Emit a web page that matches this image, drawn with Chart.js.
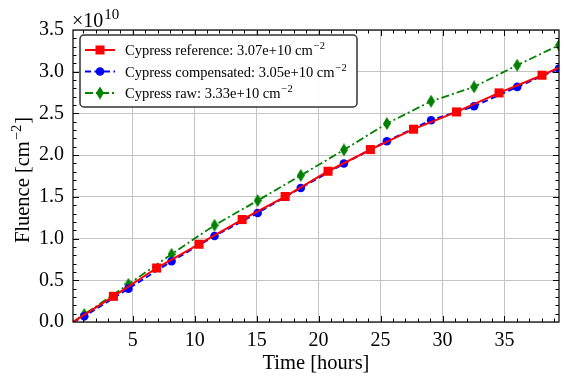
<!DOCTYPE html>
<html><head><meta charset="utf-8">
<script src="https://cdn.jsdelivr.net/npm/chart.js@4"></script>
<style>html,body{margin:0;padding:0;background:#fff}canvas{display:block}</style>
</head><body>
<canvas id="c" width="564" height="377"></canvas>
<script>
// ---- data (fluence in units of 1e10 cm^-2, time in hours) ----
const refTime     = [0.18, 3.44, 6.93, 10.35, 13.83, 17.30, 20.76, 24.18, 27.66, 31.13, 34.56, 38.03, 39.40];
const refFluence  = [0.000, 0.308, 0.647, 0.932, 1.228, 1.504, 1.807, 2.067, 2.311, 2.518, 2.746, 2.958, 3.050];
const compTime    = [0.18, 1.09, 4.65, 8.13, 11.60, 15.08, 18.56, 22.04, 25.51, 29.08, 32.55, 36.03, 39.40];
const compFluence = [0.000, 0.068, 0.400, 0.728, 1.031, 1.307, 1.607, 1.899, 2.167, 2.419, 2.586, 2.818, 3.038];
const rawTime     = [0.18, 1.09, 4.65, 8.13, 11.60, 15.08, 18.56, 22.04, 25.51, 29.08, 32.55, 36.03, 39.40];
const rawFluence  = [0.000, 0.090, 0.452, 0.812, 1.160, 1.455, 1.757, 2.063, 2.379, 2.646, 2.818, 3.078, 3.318];
const seriesNames = ['Cypress reference', 'Cypress compensated', 'Cypress raw'];
const seriesTotals = ['3.07e+10', '3.05e+10', '3.33e+10'];
const xTickValues = [5, 10, 15, 20, 25, 30, 35];
const yTickValues = [0, 0.5, 1.0, 1.5, 2.0, 2.5, 3.0, 3.5];

const SERIF = '"Liberation Serif", "Times New Roman", serif';
const toXY = (xs, ys) => xs.map((v, i) => ({x: v, y: ys[i]}));

// thin diamond marker
function thinDiamond(w, h, color) {
  const c = document.createElement('canvas');
  c.width = w; c.height = h;
  const g = c.getContext('2d');
  g.fillStyle = color;
  g.beginPath();
  g.moveTo(w / 2, 0); g.lineTo(w, h / 2); g.lineTo(w / 2, h); g.lineTo(0, h / 2); g.closePath();
  g.fill();
  return c;
}
const diamondImg = thinDiamond(8, 13, '#008000');

const colors = ['#ff0000', '#0000ff', '#008000'];
const dashes = [[], [6, 3.5], [8, 3, 2, 3]];

function drawSup(ctx, x, y, main, sup, size, supSize, rise) {
  ctx.font = size + 'px ' + SERIF;
  ctx.fillText(main, x, y);
  const w = ctx.measureText(main).width;
  ctx.font = supSize + 'px ' + SERIF;
  ctx.fillText(sup, x + w + 1, y - rise);
  return w + 1 + ctx.measureText(sup).width;
}

const decor = {
  id: 'decor',
  afterDraw(chart) {
    const {ctx, chartArea: a, scales: {x, y}} = chart;
    ctx.save();
    // inward ticks on all four sides
    ctx.strokeStyle = '#000';
    ctx.lineWidth = 1;
    ctx.beginPath();
    for (let v = 1; v < 40; v++) {
      const px = Math.round(x.getPixelForValue(v)) + 0.5;
      if (px <= a.left + 1 || px >= a.right - 1) continue;
      const L = v % 5 === 0 ? 6 : 3.5;
      ctx.moveTo(px, a.bottom); ctx.lineTo(px, a.bottom - L);
      ctx.moveTo(px, a.top); ctx.lineTo(px, a.top + L);
    }
    for (let i = 1; i < 35; i++) {
      const py = Math.round(y.getPixelForValue(i / 10)) + 0.5;
      const L = i % 5 === 0 ? 6 : 3.5;
      ctx.moveTo(a.left, py); ctx.lineTo(a.left + L, py);
      ctx.moveTo(a.right, py); ctx.lineTo(a.right - L, py);
    }
    ctx.stroke();
    ctx.lineWidth = 1.2;
    ctx.strokeRect(a.left, a.top, a.right - a.left, a.bottom - a.top);

    // legend
    const lx = 80, ly = 35, lw = 277, lh = 72;
    ctx.beginPath();
    ctx.roundRect(lx, ly, lw, lh, 4);
    ctx.fillStyle = 'rgba(255,255,255,0.92)';
    ctx.fill();
    ctx.lineWidth = 1.5;
    ctx.strokeStyle = '#333';
    ctx.stroke();
    const rows = [50, 71.5, 93];
    for (let i = 0; i < 3; i++) {
      const ry = rows[i];
      ctx.save();
      ctx.strokeStyle = colors[i];
      ctx.lineWidth = 2;
      ctx.setLineDash(dashes[i]);
      ctx.beginPath(); ctx.moveTo(85, ry); ctx.lineTo(115, ry); ctx.stroke();
      ctx.restore();
      ctx.fillStyle = colors[i];
      if (i === 0) ctx.fillRect(100 - 4.5, ry - 4.5, 9, 9);
      else if (i === 1) { ctx.beginPath(); ctx.arc(100, ry, 4.3, 0, Math.PI * 2); ctx.fill(); }
      else ctx.drawImage(diamondImg, 100 - diamondImg.width / 2, ry - diamondImg.height / 2);
      ctx.fillStyle = '#000';
      ctx.textBaseline = 'alphabetic';
      ctx.textAlign = 'left';
      drawSup(ctx, 125, ry + 5, seriesNames[i] + ': ' + seriesTotals[i] + ' cm', '\u22122', 14.5, 10.5, 6);
    }

    // exponent label
    ctx.fillStyle = '#000';
    ctx.textAlign = 'left';
    ctx.textBaseline = 'alphabetic';
    drawSup(ctx, 72, 27, '\u00d710', '10', 20, 15, 8);

    // axis titles
    ctx.font = '20.5px ' + SERIF;
    ctx.textAlign = 'center';
    ctx.fillText('Time [hours]', (a.left + a.right) / 2, 369);

    ctx.save();
    ctx.translate(29, (a.top + a.bottom) / 2 + 4);
    ctx.rotate(-Math.PI / 2);
    ctx.textAlign = 'left';
    ctx.font = '20.5px ' + SERIF;
    const w1 = ctx.measureText('Fluence [cm').width;
    ctx.font = '14.5px ' + SERIF;
    const w2 = ctx.measureText('\u22122').width;
    ctx.font = '20.5px ' + SERIF;
    const w3 = ctx.measureText(']').width;
    let sx = -(w1 + w2 + w3 + 2) / 2;
    ctx.fillText('Fluence [cm', sx, 0);
    ctx.font = '14.5px ' + SERIF;
    ctx.fillText('\u22122', sx + w1 + 1, -8);
    ctx.font = '20.5px ' + SERIF;
    ctx.fillText(']', sx + w1 + w2 + 2, 0);
    ctx.restore();
    ctx.restore();
  }
};

const pointShown = (ctx, lastHidden) => {
  const n = ctx.dataset.data.length;
  if (ctx.dataIndex === 0) return false;
  if (lastHidden && ctx.dataIndex === n - 1) return false;
  return true;
};

new Chart(document.getElementById('c'), {
  type: 'line',
  data: {
    datasets: [
      {
        label: seriesNames[0], data: toXY(refTime, refFluence),
        borderColor: colors[0], backgroundColor: colors[0], borderWidth: 2,
        pointStyle: 'rect', pointBorderWidth: 0,
        pointRadius: c => pointShown(c, true) ? 6.4 : 0
      },
      {
        label: seriesNames[1], data: toXY(compTime, compFluence),
        borderColor: colors[1], backgroundColor: colors[1], borderWidth: 2, borderDash: dashes[1],
        pointStyle: 'circle', pointBorderWidth: 0,
        pointRadius: c => pointShown(c, false) ? 4.3 : 0
      },
      {
        label: seriesNames[2], data: toXY(rawTime, rawFluence),
        borderColor: colors[2], backgroundColor: colors[2], borderWidth: 1.8, borderDash: dashes[2],
        pointStyle: diamondImg, pointBorderWidth: 0,
        pointRadius: c => pointShown(c, false) ? 5 : 0
      }
    ]
  },
  options: {
    responsive: false, animation: false, devicePixelRatio: 1,
    layout: {padding: {left: 0, right: 3, top: 30, bottom: 0}},
    plugins: {legend: {display: false}, tooltip: {enabled: false}},
    elements: {line: {tension: 0}},
    scales: {
      x: {
        type: 'linear', min: 0.18, max: 39.4,
        afterBuildTicks: s => { s.ticks = xTickValues.map(v => ({value: v})); },
        afterFit: s => { s.height = 55; },
        grid: {color: '#c4c4c4', lineWidth: 1, drawTicks: false},
        border: {display: false},
        ticks: {padding: 7, color: '#000', font: {family: SERIF, size: 20}, maxRotation: 0,
                callback: v => String(v)}
      },
      y: {
        type: 'linear', min: 0, max: 3.5,
        afterBuildTicks: s => { s.ticks = yTickValues.map(v => ({value: v})); },
        afterFit: s => { s.width = 73; },
        grid: {color: '#c4c4c4', lineWidth: 1, drawTicks: false},
        border: {display: false},
        ticks: {padding: 9, color: '#000', font: {family: SERIF, size: 20},
                callback: v => Number(v).toFixed(1)}
      }
    }
  },
  plugins: [decor]
});
</script>
</body></html>
